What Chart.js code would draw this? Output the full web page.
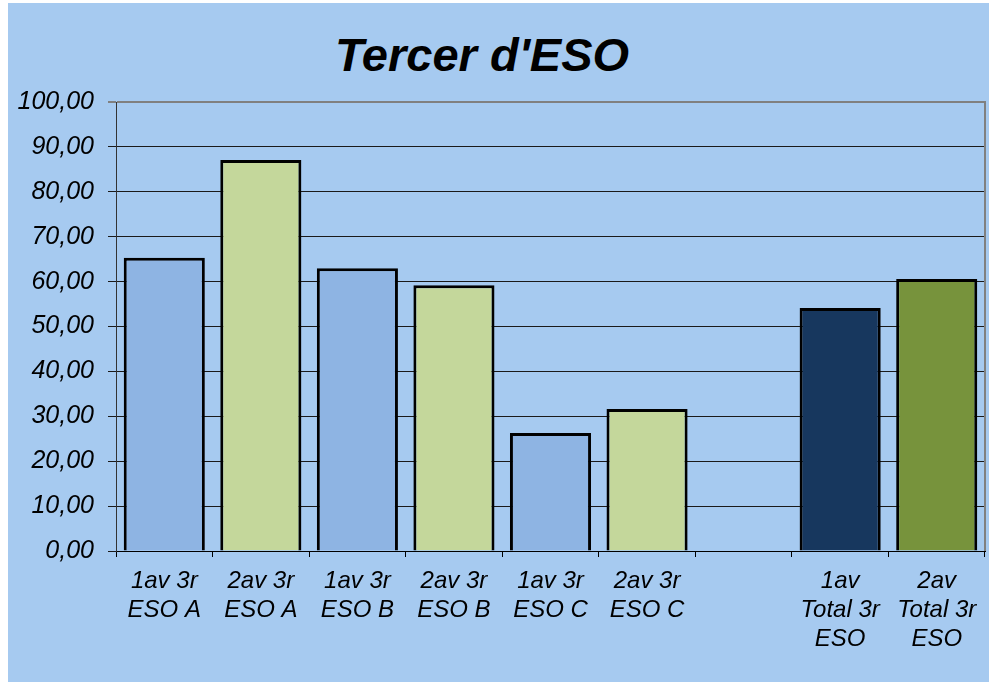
<!DOCTYPE html>
<html>
<head>
<meta charset="utf-8">
<script src="https://cdn.jsdelivr.net/npm/chart.js@4"></script>
<style>
  body { margin: 0; background: #ffffff; }
  #wrap { position: absolute; left: 8px; top: 3px; width: 981px; height: 679px; background: #a6caf0; }
  #title { position: absolute; left: 0; width: 948px; top: 24px; text-align: center;
           font-family: "Liberation Sans", Arial, sans-serif; font-weight: bold; font-style: italic;
           font-size: 47px; color: #000; }
  canvas { position: absolute; left: 0; top: 0; }
</style>
</head>
<body>
<div id="wrap">
  <div id="title">Tercer d'ESO</div>
  <canvas id="myChart" width="981" height="679"></canvas>
</div>
<script>
var categories = [
  ['1av 3r', 'ESO A'], ['2av 3r', 'ESO A'], ['1av 3r', 'ESO B'], ['2av 3r', 'ESO B'],
  ['1av 3r', 'ESO C'], ['2av 3r', 'ESO C'], '',
  ['1av', 'Total 3r', 'ESO'], ['2av', 'Total 3r', 'ESO']
];
var values = [65.3, 87.1, 63.0, 59.2, 26.3, 31.6, null, 54.1, 60.6];
var yTicks = [0, 10, 20, 30, 40, 50, 60, 70, 80, 90, 100];

var barColors = ['#8eb4e3', '#c4d79b', '#8eb4e3', '#c4d79b', '#8eb4e3', '#c4d79b', '#8eb4e3', '#17375e', '#77933c'];
var fontName = '"Liberation Sans", Arial, sans-serif';

// right side of the plot frame
var frameRight = {
  id: 'frameRight',
  afterDraw: function (chart) {
    var a = chart.chartArea, ctx = chart.ctx;
    ctx.save();
    ctx.strokeStyle = '#808080';
    ctx.lineWidth = 2;
    ctx.beginPath();
    ctx.moveTo(a.right, a.top - 1);
    ctx.lineTo(a.right, a.bottom);
    ctx.stroke();
    ctx.restore();
  }
};

var ctx = document.getElementById('myChart');
var chart = new Chart(ctx, {
  type: 'bar',
  data: {
    labels: categories,
    datasets: [{
      data: values,
      backgroundColor: barColors,
      borderColor: '#000000',
      borderWidth: 3,
      barPercentage: 0.84,
      categoryPercentage: 1
    }]
  },
  options: {
    responsive: false,
    animation: false,
    layout: { padding: { top: 99, right: 4, left: 0, bottom: 0 } },
    plugins: { legend: { display: false }, tooltip: { enabled: false } },
    scales: {
      x: {
        afterFit: function (s) { s.height = 131; },
        grid: { offset: true, drawOnChartArea: false, drawTicks: true, tickLength: 6, color: '#000000' },
        border: { color: '#000000', width: 1 },
        ticks: {
          color: '#000000', padding: 10, maxRotation: 0, autoSkip: false,
          font: { family: fontName, size: 24, style: 'italic', lineHeight: 1.2 }
        }
      },
      y: {
        min: 0, max: 100,
        afterFit: function (s) { s.width = 108; },
        afterBuildTicks: function (s) { s.ticks = yTicks.map(function (v) { return { value: v }; }); },
        grid: {
          color: function (c) { return c.tick && c.tick.value === 100 ? '#808080' : '#1a1a1a'; },
          lineWidth: function (c) { return c.tick && c.tick.value === 100 ? 2 : 1; },
          tickLength: 8
        },
        border: { color: '#333333', width: 1 },
        ticks: {
          color: '#000000', padding: 14,
          font: { family: fontName, size: 25, style: 'italic' },
          callback: function (v) { return Number(v).toFixed(2).replace('.', ','); }
        }
      }
    }
  },
  plugins: [frameRight]
});
</script>
</body>
</html>
